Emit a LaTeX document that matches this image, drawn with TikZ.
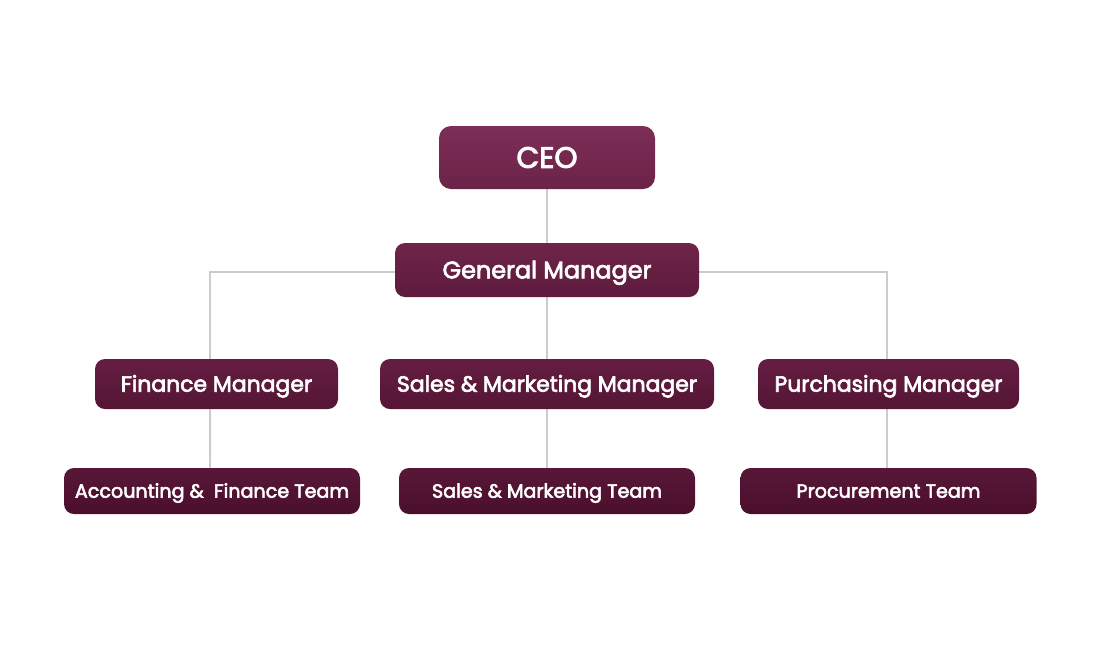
\documentclass[tikz,border=0pt]{standalone}
\usepackage{fontspec}
\setmainfont{Poppins}
\newfontfamily\boxfont[FakeBold=3]{Poppins}
\usetikzlibrary{backgrounds}
\definecolor{linkgray}{HTML}{CCCCCC}

\begin{document}
\begin{tikzpicture}[
		box/.style={rounded corners=0.25cm, text=white, inner sep=0pt, align=center, text depth=0pt},
		toprole/.style={box, rounded corners=0.3cm, top color=ceotop, bottom color=ceobot, text height=14.7pt},
		gmrole/.style={box, top color=gmtop, bottom color=gmbot, text height=11.9pt},
		mgrrole/.style={box, top color=mgrtop, bottom color=mgrbot, minimum height=1.25cm, text height=10.9pt},
		teamrole/.style={box, top color=teamtop, bottom color=teambot, minimum height=1.15cm, minimum width=7.4cm, text height=9.5pt},
		link/.style={line width=1.4pt, color=linkgray}
	]
			\definecolor{ceotop}{HTML}{7C2E56}
			\definecolor{ceobot}{HTML}{6C2348}
			\definecolor{gmtop}{HTML}{6E2449}
			\definecolor{gmbot}{HTML}{5E1B3E}
			\definecolor{mgrtop}{HTML}{641E42}
			\definecolor{mgrbot}{HTML}{551535}
			\definecolor{teamtop}{HTML}{591737}
			\definecolor{teambot}{HTML}{4A0F2C}
			%%%%% START %%%%%
			
			\useasboundingbox (0, 0) rectangle (27.5, -16.5);
			
			\node[toprole, minimum width=5.4cm, minimum height=1.575cm, font=\boxfont\fontsize{21}{25}\selectfont] (ceo) at (13.675, -3.9375) {CEO};
			\node[gmrole, minimum width=7.6cm, minimum height=1.35cm, font=\boxfont\fontsize{17}{21}\selectfont] (gm) at (13.675, -6.75) {General Manager};
			
			\node[mgrrole, minimum width=6.075cm, font=\boxfont\fontsize{15.6}{18}\selectfont] (fm) at (5.4125, -9.6) {Finance Manager};
			\node[mgrrole, minimum width=8.35cm, font=\boxfont\fontsize{15.6}{18}\selectfont] (smm) at (13.675, -9.6) {Sales \& Marketing Manager};
			\node[mgrrole, minimum width=6.525cm, font=\boxfont\fontsize{15.6}{18}\selectfont] (pm) at (22.2125, -9.6) {Purchasing Manager};
			
			\node[teamrole, font=\boxfont\fontsize{13.6}{16}\selectfont] (acc) at (5.3, -12.275) {Accounting \&\ \ Finance Team};
			\node[teamrole, font=\boxfont\fontsize{13.6}{16}\selectfont] (smt) at (13.675, -12.275) {Sales \& Marketing Team};
			\node[teamrole, font=\boxfont\fontsize{13.6}{16}\selectfont] (proc) at (22.2125, -12.275) {Procurement Team};
			
			\begin{scope}[on background layer]
			\draw[link] (ceo) -- (gm);
			\draw[link] ([yshift=-1.4pt]gm.west) -| ([xshift=-0.16cm]fm.north);
			\draw[link] ([yshift=-1.4pt]gm.east) -| ([xshift=-0.04cm]pm.north);
			\draw[link] (gm) -- (smm);
			
			\draw[link] ([xshift=-0.16cm]fm.south) -- ([xshift=-0.05cm]acc.north);
			\draw[link] (smm) -- (smt);
			\draw[link] ([xshift=-0.04cm]pm.south) -- ([xshift=-0.04cm]proc.north);
			\end{scope}
			
			%%%%% END %%%%%
		\end{tikzpicture}
\end{document}
